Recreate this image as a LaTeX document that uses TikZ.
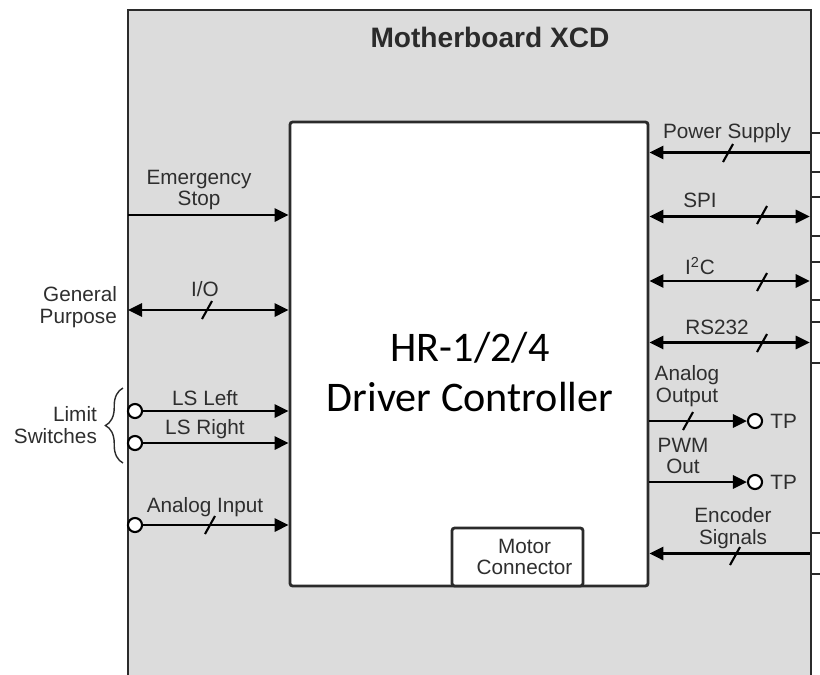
\documentclass[tikz,border=0pt]{standalone}
\usepackage{fontspec}
\setmainfont{Liberation Sans}
\newfontfamily\calibri{Carlito}
\usepackage{tikz}
\usetikzlibrary{arrows.meta,positioning,fit,decorations.pathreplacing}
\definecolor{grisfond}{HTML}{DCDCDC}
\definecolor{trait}{HTML}{2B2B2B}
\definecolor{texte}{HTML}{2E2E2E}
\tikzset{
  carte/.style={draw=trait,line width=1.6pt,fill=grisfond,inner sep=0pt},
  boite/.style={draw=trait,line width=1.6pt,fill=white,inner sep=0pt,rounded corners=1.5pt},
  prise/.style={draw=trait,line width=1.4pt,fill=white,inner sep=0pt},
  fleche/.style={-{Triangle[length=8pt,width=7.5pt]},line width=1.5pt,color=black},
  bidir/.style={{Triangle[length=8pt,width=7.5pt]}-{Triangle[length=8pt,width=7.5pt]},line width=1.5pt,color=black},
  barre/.style={line width=1.2pt,color=black},
  borne/.style={circle,draw=black,line width=1.2pt,fill=white,inner sep=0pt,minimum size=8pt},
  etiq/.style={font=\fontsize{11.8}{12.2}\selectfont,text=texte,align=center,inner sep=1pt},
}

\begin{document}
\begin{tikzpicture}[x=0.02cm,y=-0.02cm]
  \useasboundingbox (0,0) rectangle (820,674);
  \clip (0,0) rectangle (820,674);
  % carte mere et prises de droite
  \node[carte,fit={(128,10) (811,700)}] (board) {};
  \node[prise,fit={(811,133) (850,172)}] (cpower) {};
  \node[prise,fit={(811,197) (850,236)}] (cspi) {};
  \node[prise,fit={(811,262) (850,300)}] (ciic) {};
  \node[prise,fit={(811,322) (850,363)}] (crs) {};
  \node[prise,fit={(811,533) (850,574)}] (cenc) {};
  \node[boite,fit={(290,122) (648,586)}] (drv) {};
  \node[boite,fit={(452,528) (583,586)}] (motor) {};
  \node[etiq] at ([xshift=4pt]motor.center) {Motor\\Connector};
  \node[font=\fontsize{16}{16}\selectfont\bfseries,text=trait] (titre) at (490,37) {Motherboard XCD};
  \node[font=\calibri\fontsize{24}{29}\selectfont,align=center,text=black] (nom) at (470,372) {HR-1/2/4\\Driver Controller};

  % entrees a gauche
  \coordinate (es) at (128,215);
  \coordinate (gp) at (128,310);
  \node[borne] (lsl) at (135,411) {};
  \node[borne] (lsr) at (135,443) {};
  \node[borne] (ain) at (135,525) {};
  \draw[fleche] (es) -- (drv.west |- es);
  \draw[bidir] (gp) -- (drv.west |- gp);
  \foreach \b in {lsl,lsr,ain} \draw[fleche] (\b) -- (drv.west |- \b);
  \node[etiq] at (199,190) {Emergency\\Stop};
  \node[etiq] at (205,289) {I/O};
  \node[etiq,anchor=east,align=right] (gpl) at (119,307) {General\\Purpose};
  \node[etiq] at (205,398) {LS Left};
  \node[etiq] at (205,429) {LS Right};
  \node[etiq] at (205,507) {Analog Input};
  \draw[decorate,decoration={brace,amplitude=10pt},line width=0.8pt,trait] (123,463) -- (123,388);
  \node[etiq,anchor=east,align=right] (lsw) at (99,425) {Limit\\Switches};

  % liaisons a droite
  \draw[fleche] (cpower.west) -- (drv.east |- cpower.west);
  \foreach \c in {cspi,ciic,crs} \draw[bidir] (drv.east |- \c.west) -- (\c.west);
  \draw[fleche] (cenc.west) -- (drv.east |- cenc.west);
  \node[borne] (tpa) at (755,421) {};
  \node[borne] (tpp) at (755,482) {};
  \draw[fleche] (drv.east |- tpa) -- (tpa);
  \draw[fleche] (drv.east |- tpp) -- (tpp);
  \node[etiq,right=3pt of tpa] {TP};
  \node[etiq,right=3pt of tpp] {TP};
  \node[etiq] at (727,133) {Power Supply};
  \node[etiq] at (700,200) {SPI};
  \node[etiq] at (700,266) {I\textsuperscript{2}C};
  \node[etiq] at (717,327) {RS232};
  \node[etiq] at (687,386) {Analog\\Output};
  \node[etiq] at (683,456) {PWM\\Out};
  \node[etiq] at (733,528) {Encoder\\Signals};

  % marques de bus
  \foreach \x/\y in {207/310,210/525,728/153,762/215,762/282,762/343,688/421,735/556}
    \draw[barre] (\x,\y) ++(-5,9) -- ++(10,-18);
\end{tikzpicture}
\end{document}
